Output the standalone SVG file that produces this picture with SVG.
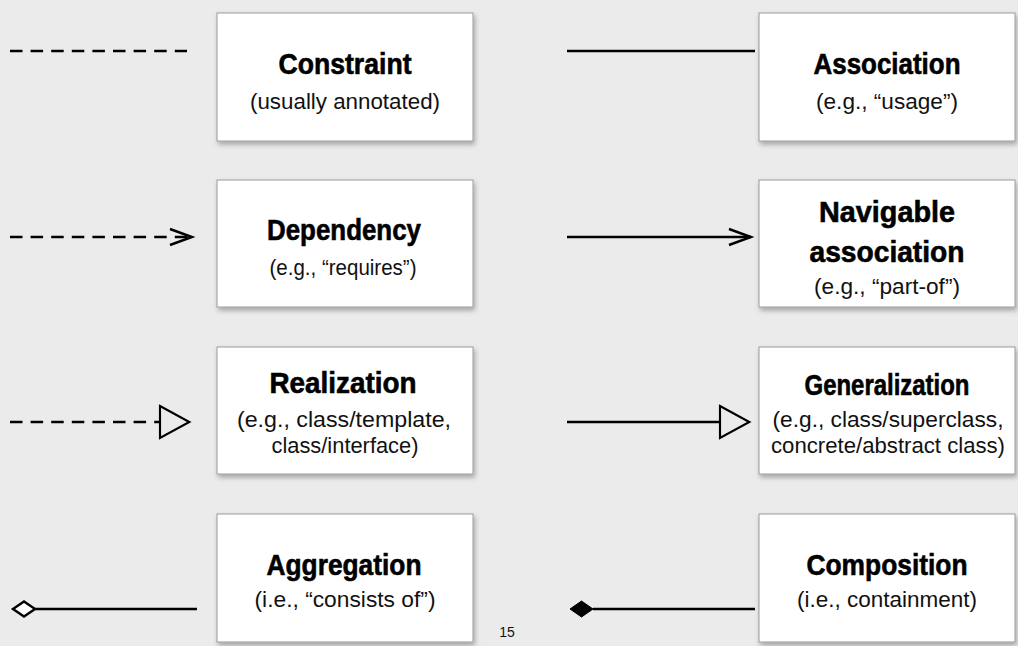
<svg xmlns="http://www.w3.org/2000/svg" width="1018" height="646" viewBox="0 0 1018 646">
<style>
.bg{fill:#ebebeb}
.box{fill:#fff;stroke:#9a9a9a;stroke-width:1;filter:url(#sh)}
.t{font-family:"Liberation Sans",Arial,sans-serif;font-weight:bold;font-size:29px;fill:#000;stroke:#000;stroke-width:0.6;text-anchor:middle}
.s{font-family:"Liberation Sans",Arial,sans-serif;font-size:22px;fill:#111;text-anchor:middle}
.pg{font-family:"Liberation Sans",Arial,sans-serif;font-size:14px;fill:#111;text-anchor:middle}
.ln{stroke:#000;stroke-width:2.4;fill:none}
.dash{stroke-dasharray:12.5 8.1}
</style>
<defs>
<filter id="sh" x="-10%" y="-10%" width="125%" height="130%">
<feDropShadow dx="1.5" dy="3" stdDeviation="2.5" flood-color="#000" flood-opacity="0.3"/>
</filter>
<marker id="open" markerUnits="userSpaceOnUse" markerWidth="40" markerHeight="40" viewBox="-30 -20 40 40" refX="0" refY="0" orient="auto" overflow="visible">
<path d="M-22,-8 L0,0 L-22,8" fill="none" stroke="#000" stroke-width="2.4"/>
</marker>
<marker id="tri" markerUnits="userSpaceOnUse" markerWidth="40" markerHeight="40" viewBox="-5 -20 45 40" refX="0" refY="0" orient="auto" overflow="visible">
<path d="M0,-18 L33,0 L0,18 Z" fill="#ebebeb" stroke="#000" stroke-width="2.4"/>
</marker>
<marker id="dOpen" markerUnits="userSpaceOnUse" markerWidth="30" markerHeight="30" viewBox="-5 -10 30 20" refX="0" refY="0" orient="auto" overflow="visible">
<path d="M0,0 L11,-7.5 L22,0 L11,7.5 Z" fill="#fff" stroke="#000" stroke-width="2.4"/>
</marker>
<marker id="dFill" markerUnits="userSpaceOnUse" markerWidth="30" markerHeight="30" viewBox="-5 -10 30 20" refX="0" refY="0" orient="auto" overflow="visible">
<path d="M0,0 L11.5,-8 L23,0 L11.5,8 Z" fill="#000" stroke="#000" stroke-width="1"/>
</marker>
</defs>
<rect class="bg" x="0" y="0" width="1018" height="646"/>

<g id="connectors">
<line class="ln dash" x1="10" y1="51" x2="187" y2="51"/>
<line class="ln" x1="567" y1="51" x2="755" y2="51"/>
<line class="ln dash" x1="10" y1="237" x2="192" y2="237" marker-end="url(#open)"/>
<line class="ln" x1="567" y1="237" x2="751" y2="237" marker-end="url(#open)"/>
<line class="ln dash" x1="10" y1="422" x2="160" y2="422" marker-end="url(#tri)"/>
<line class="ln" x1="567" y1="422" x2="720" y2="422" marker-end="url(#tri)"/>
<line class="ln" x1="197" y1="609" x2="35" y2="609" marker-end="url(#dOpen)"/>
<line class="ln" x1="755" y1="609" x2="593" y2="609" marker-end="url(#dFill)"/>
</g>

<g id="constraint">
<rect class="box" x="217" y="13" width="256" height="128"/>
<text class="t" x="345" y="74" textLength="133" lengthAdjust="spacingAndGlyphs">Constraint</text>
<text class="s" x="345" y="109" textLength="190" lengthAdjust="spacingAndGlyphs">(usually annotated)</text>
</g>
<g id="association">
<rect class="box" x="759" y="13" width="256" height="128"/>
<text class="t" x="887" y="74" textLength="147" lengthAdjust="spacingAndGlyphs">Association</text>
<text class="s" x="887" y="109" textLength="142" lengthAdjust="spacingAndGlyphs">(e.g., “usage”)</text>
</g>
<g id="dependency">
<rect class="box" x="217" y="180" width="256" height="127"/>
<text class="t" x="344" y="240" textLength="154" lengthAdjust="spacingAndGlyphs">Dependency</text>
<text class="s" x="343" y="275" textLength="147" lengthAdjust="spacingAndGlyphs">(e.g., “requires”)</text>
</g>
<g id="navigable">
<rect class="box" x="759" y="180" width="256" height="127"/>
<text class="t" x="887" y="222" textLength="136" lengthAdjust="spacingAndGlyphs">Navigable</text>
<text class="t" x="887" y="262" textLength="155" lengthAdjust="spacingAndGlyphs">association</text>
<text class="s" x="887" y="294" textLength="146" lengthAdjust="spacingAndGlyphs">(e.g., “part-of”)</text>
</g>
<g id="realization">
<rect class="box" x="217" y="347" width="256" height="127"/>
<text class="t" x="343" y="393" textLength="147" lengthAdjust="spacingAndGlyphs">Realization</text>
<text class="s" x="344" y="427" textLength="214" lengthAdjust="spacingAndGlyphs">(e.g., class/template,</text>
<text class="s" x="345" y="453" textLength="147" lengthAdjust="spacingAndGlyphs">class/interface)</text>
</g>
<g id="generalization">
<rect class="box" x="759" y="347" width="256" height="127"/>
<text class="t" x="887" y="395" textLength="165" lengthAdjust="spacingAndGlyphs">Generalization</text>
<text class="s" x="888" y="427" textLength="231" lengthAdjust="spacingAndGlyphs">(e.g., class/superclass,</text>
<text class="s" x="888" y="453" textLength="234" lengthAdjust="spacingAndGlyphs">concrete/abstract class)</text>
</g>
<g id="aggregation">
<rect class="box" x="217" y="514" width="256" height="128"/>
<text class="t" x="344" y="575" textLength="155" lengthAdjust="spacingAndGlyphs">Aggregation</text>
<text class="s" x="345" y="607" textLength="181" lengthAdjust="spacingAndGlyphs">(i.e., “consists of”)</text>
</g>
<g id="composition">
<rect class="box" x="759" y="514" width="256" height="128"/>
<text class="t" x="887" y="575" textLength="161" lengthAdjust="spacingAndGlyphs">Composition</text>
<text class="s" x="887" y="607" textLength="180" lengthAdjust="spacingAndGlyphs">(i.e., containment)</text>
</g>
<text class="pg" x="507" y="637">15</text>
</svg>
